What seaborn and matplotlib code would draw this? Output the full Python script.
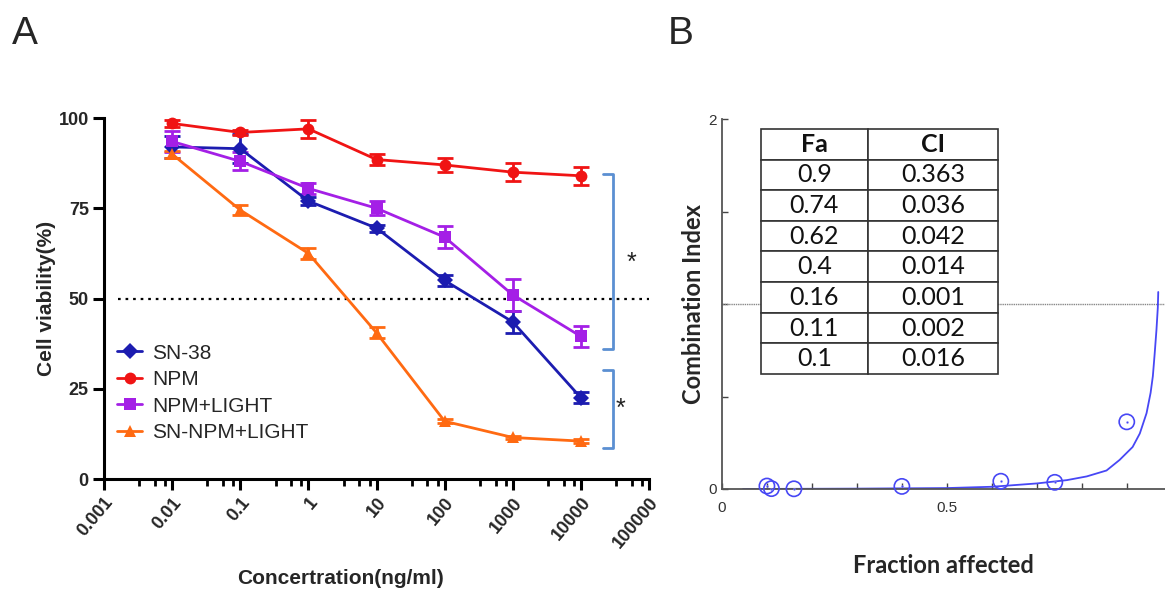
import seaborn as sns
import matplotlib.pyplot as plt
import numpy as np
import pandas as pd
from matplotlib.ticker import LogLocator, NullFormatter

# ---- panel A data: cell viability vs concentration ----
conc = [0.01, 0.1, 1, 10, 100, 1000, 10000]
groups = ['SN-38', 'NPM', 'NPM+LIGHT', 'SN-NPM+LIGHT']
sn38 = [92, 91.5, 77, 69.5, 55, 43.5, 22.5]
sn38_err = [3, 4, 1, 1, 1.5, 3, 1.5]
npm = [98.5, 96, 97, 88.5, 87, 85, 84]
npm_err = [1, 0.8, 2.5, 1.5, 2, 2.5, 2.5]
npm_light = [93.5, 88, 80.5, 75, 67, 51, 39.5]
npm_light_err = [3, 2.5, 1.5, 2, 3, 4.5, 3]
sn_npm_light = [90, 74.5, 62.5, 40.5, 16, 11.5, 10.5]
sn_npm_light_err = [1, 1.5, 1.5, 1.5, 0.5, 0.5, 0.5]
xtick_vals = [0.001, 0.01, 0.1, 1, 10, 100, 1000, 10000, 100000]
xtick_labels = ['0.001', '0.01', '0.1', '1', '10', '100', '1000', '10000', '100000']
ytick_vals = [0, 25, 50, 75, 100]

# significance brackets (x0, x1, y_top, y_bottom) and stars
brackets = [(21000, 29800, 84.5, 36), (21000, 29800, 30.2, 8.6)]
stars = [(56000, 60), (38000, 19.5)]

# ---- panel B data: combination index ----
fa = [0.9, 0.74, 0.62, 0.4, 0.16, 0.11, 0.1]
ci = [0.363, 0.036, 0.042, 0.014, 0.001, 0.002, 0.016]
fa_table = ['0.9', '0.74', '0.62', '0.4', '0.16', '0.11', '0.1']
ci_table = ['0.363', '0.036', '0.042', '0.014', '0.001', '0.002', '0.016']
curve_fa = [0.047, 0.3, 0.5, 0.6, 0.7, 0.767, 0.811, 0.855, 0.884, 0.913, 0.929,
            0.944, 0.953, 0.958, 0.962, 0.966, 0.969, 0.970]
curve_ci = [0.0, 0.002, 0.005, 0.012, 0.03, 0.048, 0.068, 0.10, 0.157, 0.227, 0.30,
            0.41, 0.52, 0.61, 0.73, 0.86, 0.98, 1.065]

colors = {'SN-38': '#1c1cb0', 'NPM': '#f01414', 'NPM+LIGHT': '#a41fe6',
          'SN-NPM+LIGHT': '#ff6a12'}
markers = {'SN-38': 'D', 'NPM': 'o', 'NPM+LIGHT': 's', 'SN-NPM+LIGHT': '^'}
bracket_color = '#5b8fd2'
b_blue = '#4747f5'

sns.set_theme(style='ticks')
plt.rcParams['font.family'] = ['Liberation Sans', 'DejaVu Sans']
lato = ['Lato', 'DejaVu Sans']

fig = plt.figure(figsize=(11.65, 5.91), dpi=100)

# ================= panel A =================
ax = fig.add_axes([0.0893, 0.1895, 0.4678, 0.6108])
ax.set_xscale('log')

vals = {'SN-38': (sn38, sn38_err), 'NPM': (npm, npm_err),
        'NPM+LIGHT': (npm_light, npm_light_err),
        'SN-NPM+LIGHT': (sn_npm_light, sn_npm_light_err)}
df = pd.concat([pd.DataFrame({'conc': conc, 'viability': vals[g][0], 'group': g})
                for g in groups], ignore_index=True)

ax.axhline(50, xmin=0.025, xmax=1, color='black', linestyle=(0, (1.2, 2.2)), lw=1.6, zorder=1)

sns.lineplot(data=df, x='conc', y='viability', hue='group', style='group',
             hue_order=groups, style_order=groups, palette=colors, markers=markers,
             dashes=False, linewidth=2, markersize=8.5, markeredgewidth=0, ax=ax,
             legend=True, zorder=3)
for g in groups:
    ax.errorbar(conc, vals[g][0], yerr=vals[g][1], fmt='none', ecolor=colors[g],
                elinewidth=2, capsize=6, capthick=2, zorder=2, clip_on=False)
for ln in ax.lines:
    ln.set_clip_on(False)

for x0, x1, yt, yb in brackets:
    ax.plot([x0, x1, x1, x0], [yt, yt, yb, yb], color=bracket_color, lw=2, clip_on=False)
for sx, sy in stars:
    ax.text(sx, sy, '*', fontsize=18, ha='center', va='center', color='#222222')

ax.set_xlim(0.001, 100000)
ax.set_ylim(0, 100)
ax.set_xticks(xtick_vals)
ax.set_xticklabels(xtick_labels, rotation=50, ha='right', rotation_mode='anchor',
                   fontweight='bold', fontsize=13)
ax.xaxis.set_minor_locator(LogLocator(base=10, subs=[3.3, 5.6, 7.9], numticks=20))
ax.xaxis.set_minor_formatter(NullFormatter())
ax.set_yticks(ytick_vals)
ax.set_yticklabels([str(v) for v in ytick_vals], fontweight='bold', fontsize=13)
ax.tick_params(axis='both', which='major', length=8, width=2.2, color='black', pad=3)
ax.tick_params(axis='x', which='minor', length=5, width=2, color='black')
sns.despine(ax=ax)
for s in ['left', 'bottom']:
    ax.spines[s].set_linewidth(2.2)
    ax.spines[s].set_color('black')

ax.set_xlabel('Concertration(ng/ml)', fontweight='bold', fontsize=15)
ax.xaxis.set_label_coords(0.433, -0.25)
ax.set_ylabel('Cell viability(%)', fontweight='bold', fontsize=15)
ax.yaxis.set_label_coords(-0.088, 0.5)

leg = ax.legend(loc='upper left', bbox_to_anchor=(0.024, 0.375), frameon=False,
                fontsize=15, handlelength=1.2, handletextpad=0.5, labelspacing=0.36,
                borderpad=0, borderaxespad=0)
for h in leg.legend_handles:
    h.set_markeredgewidth(0)

fig.text(0.010, 0.925, 'A', fontsize=28)
fig.text(0.573, 0.925, 'B', fontsize=28)

# ================= panel B =================
bx = fig.add_axes([0.6197, 0.1726, 0.3803, 0.626])
bx.axhline(1, color='#888888', lw=1, linestyle=(0, (1, 0.6)), zorder=1)
sns.lineplot(x=curve_fa, y=curve_ci, sort=False, color=b_blue, lw=1.3, ax=bx, zorder=2)
sns.scatterplot(x=fa, y=ci, s=120, facecolors='none', edgecolor=b_blue, linewidth=1.2,
                ax=bx, zorder=3, clip_on=False)
sns.scatterplot(x=fa, y=ci, s=3, color=b_blue, ax=bx, zorder=3, clip_on=False)

bx.set_xlim(0, 0.985)
bx.set_ylim(0, 2)
bx.set_xticks(np.arange(0, 1.0, 0.1))
bx.set_xticklabels(['0', '', '', '', '', '0.5', '', '', '', ''])
bx.set_yticks([0, 0.5, 1, 1.5, 2])
bx.set_yticklabels(['0', '', '', '', '2'])
bx.tick_params(axis='both', direction='in', length=4, width=1, color='#444444',
               labelsize=11, labelcolor='#333333')
bx.tick_params(axis='x', pad=9)
bx.tick_params(axis='y', pad=4)
sns.despine(ax=bx)
for s in ['left', 'bottom']:
    bx.spines[s].set_linewidth(1.3)
    bx.spines[s].set_color('#555555')
bx.set_xlabel('Fraction affected', fontweight='bold', fontsize=17, labelpad=28, family=lato)
bx.set_ylabel('Combination Index', fontweight='bold', fontsize=17, labelpad=2, family=lato)

tbl = bx.table(cellText=[[a, b] for a, b in zip(fa_table, ci_table)],
               colLabels=['Fa', 'CI'], colWidths=[0.451, 0.549],
               cellLoc='center', bbox=[0.088, 0.311, 0.535, 0.662], zorder=5)
tbl.auto_set_font_size(False)
for (r, c), cell in tbl.get_celld().items():
    cell.set_edgecolor('#333333')
    cell.set_linewidth(1.2)
    cell.set_facecolor('white')
    cell.get_text().set_fontsize(18)
    cell.get_text().set_family(lato)
    cell.get_text().set_color('#111111')
    if r == 0:
        cell.get_text().set_fontweight('bold')

fig.savefig('out.png', dpi=100)
